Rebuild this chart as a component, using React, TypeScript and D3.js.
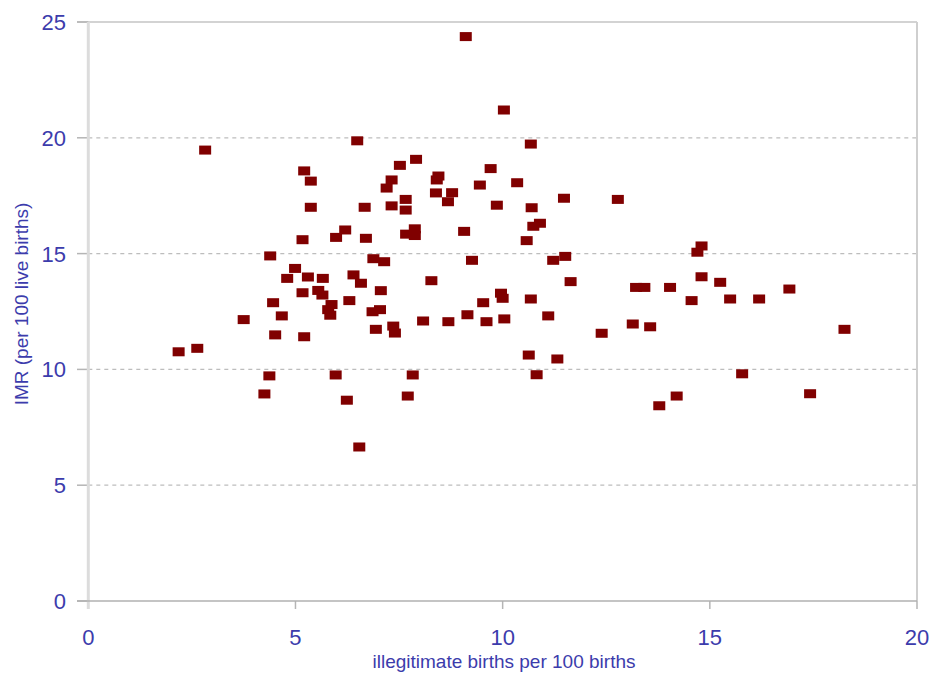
import React from 'react';
import * as d3 from 'd3';

// illegitimate births per 100 births (x) and IMR per 100 live births (y)
const illegitRate = [
  2.18, 2.63, 2.82, 3.75, 4.25, 4.37, 4.39, 4.46, 4.51, 4.67, 4.80, 4.99, 5.21, 5.17, 5.17, 5.21,
  5.37, 5.37, 5.30, 5.55, 5.65, 5.66, 5.87, 5.79, 5.84, 5.97, 5.98, 6.20, 6.24, 6.30, 6.40, 6.49,
  6.54, 6.58, 6.67, 6.70, 6.86, 6.88, 6.94, 7.04, 7.06, 7.14, 7.20, 7.32, 7.32, 7.36, 7.40, 7.52,
  7.66, 7.66, 7.67, 7.71, 7.83, 7.88, 7.88, 7.91, 8.08, 8.28, 8.39, 8.45, 8.41, 8.68, 8.69, 8.78,
  9.07, 9.11, 9.15, 9.26, 9.45, 9.53, 9.61, 9.71, 9.86, 9.96, 10.00, 10.04, 10.03, 10.35, 10.58, 10.63,
  10.68, 10.68, 10.70, 10.82, 10.74, 10.90, 11.10, 11.22, 11.32, 11.48, 11.51, 11.64, 12.39, 12.78, 13.14, 13.22,
  13.42, 13.56, 13.78, 14.04, 14.20, 14.56, 14.70, 14.80, 14.80, 15.25, 15.49, 15.78, 16.19, 16.92, 17.42, 18.25,
];
const imr = [
  10.76, 10.91, 19.47, 12.15, 8.94, 9.72, 14.90, 12.88, 11.49, 12.31, 13.93, 14.36, 18.57, 15.60, 13.31, 11.41,
  18.13, 17.00, 13.99, 13.41, 13.21, 13.93, 12.80, 12.58, 12.34, 9.76, 15.70, 16.02, 8.67, 12.97, 14.08, 19.87,
  6.65, 13.72, 17.00, 15.66, 12.49, 14.78, 11.73, 12.58, 13.40, 14.65, 17.83, 18.18, 17.06, 11.87, 11.57, 18.81,
  17.34, 16.88, 15.84, 8.85, 9.76, 16.07, 15.78, 19.07, 12.09, 13.83, 17.62, 18.35, 18.18, 17.24, 12.06, 17.63,
  15.96, 24.37, 12.36, 14.71, 17.96, 12.88, 12.06, 18.67, 17.09, 13.29, 13.07, 12.18, 21.20, 18.06, 15.56, 10.62,
  13.04, 19.73, 16.98, 9.77, 16.18, 16.31, 12.31, 14.71, 10.45, 17.39, 14.88, 13.79, 11.56, 17.34, 11.96, 13.54,
  13.54, 11.84, 8.43, 13.54, 8.85, 12.97, 15.06, 15.33, 14.00, 13.76, 13.04, 9.81, 13.04, 13.47, 8.95, 11.73,
];
const xTicks = [0, 5, 10, 15, 20];
const yTicks = [0, 5, 10, 15, 20, 25];
const xTitle = 'illegitimate births per 100 births';
const yTitle = 'IMR (per 100 live births)';

const W = 931;
const H = 676;
const left = 88.3, right = 917, top = 22, bottom = 601;
const font = '"Liberation Sans", Arial, sans-serif';
const labelColor = '#3c3cac';

export default function App() {
  const x = d3.scaleLinear().domain([0, 20]).range([left, right]);
  const y = d3.scaleLinear().domain([0, 25]).range([bottom, top]);
  const pts = illegitRate.map((v, i) => ({ x: v, y: imr[i] }));

  return (
    <div style={{ position: 'absolute', left: 0, top: 0 }}>
      <svg width={W} height={H} style={{ display: 'block', background: '#fff' }}>
        {/* gridlines */}
        {yTicks.filter(t => t > 0 && t < 25).map(t => (
          <line key={'g' + t} x1={left} x2={right} y1={y(t)} y2={y(t)}
            stroke="#bdbdbd" strokeWidth={1.3} strokeDasharray="4,4" />
        ))}
        {/* plot border top / right */}
        <line x1={77} x2={right} y1={top} y2={top} stroke="#c4c4c4" strokeWidth={1.5} />
        <line x1={right} x2={right} y1={top} y2={bottom} stroke="#cfcfcf" strokeWidth={2} />
        {/* y ticks */}
        {yTicks.map(t => (
          <line key={'yt' + t} x1={77} x2={left} y1={y(t)} y2={y(t)} stroke="#b5b5b5" strokeWidth={1.5} />
        ))}
        {/* x ticks */}
        {xTicks.map(t => (
          <line key={'xt' + t} x1={x(t)} x2={x(t)} y1={bottom} y2={bottom + 8} stroke="#b5b5b5" strokeWidth={1.5} />
        ))}
        {/* axes */}
        <line x1={left} x2={left} y1={top} y2={bottom + 8} stroke="#dcdcdc" strokeWidth={3} />
        <line x1={77} x2={right} y1={bottom} y2={bottom} stroke="#b0b0b0" strokeWidth={1.5} />

        {/* points */}
        {pts.map((d, i) => (
          <rect key={i} x={x(d.x) - 6} y={y(d.y) - 4.5} width={12} height={9} fill="#800000" />
        ))}

        {/* tick labels */}
        {yTicks.map(t => (
          <text key={'yl' + t} x={66} y={y(t)} dy="0.36em" textAnchor="end"
            fontFamily={font} fontSize={22} fill={labelColor}>{t}</text>
        ))}
        {xTicks.map(t => (
          <text key={'xl' + t} x={x(t)} y={645} textAnchor="middle"
            fontFamily={font} fontSize={22} fill={labelColor}>{t}</text>
        ))}

        {/* axis titles */}
        <text x={504} y={668} textAnchor="middle" fontFamily={font} fontSize={19} fill={labelColor}>{xTitle}</text>
        <text transform="translate(28,304) rotate(-90)" textAnchor="middle" fontFamily={font} fontSize={19}
          fill={labelColor}>{yTitle}</text>
      </svg>
    </div>
  );
}
